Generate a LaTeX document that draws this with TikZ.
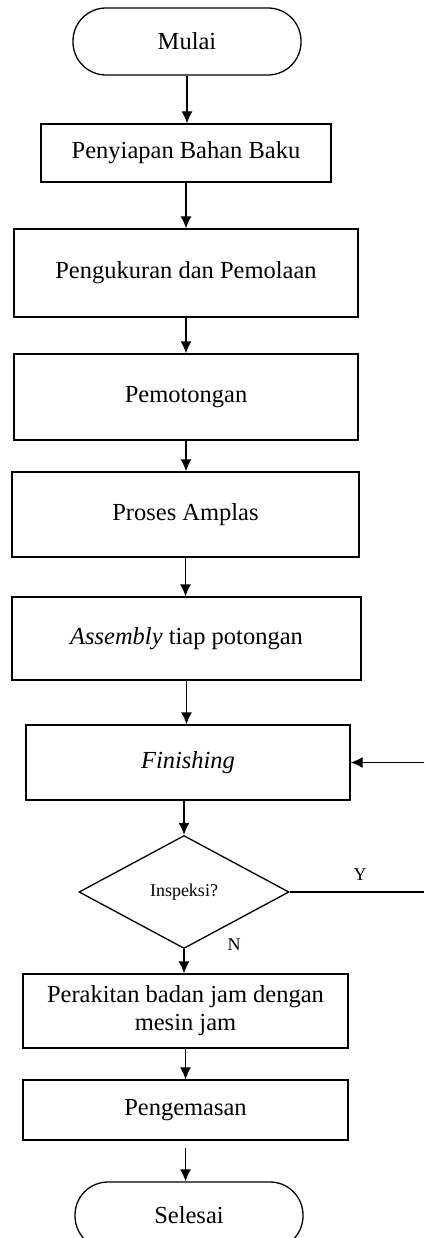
\documentclass[tikz,border=0pt]{standalone}
\usepackage{fontspec}
\setmainfont{Liberation Serif}
\usetikzlibrary{shapes.geometric,arrows.meta}

\tikzset{
  base/.style={draw=black, line width=1.3pt, inner sep=2pt, align=center,
               font=\fontsize{24.5}{28}\selectfont},
  terminal/.style={base, rounded corners=33pt},
  process/.style={base},
  decision/.style={base, diamond, inner sep=0pt, font=\fontsize{18}{20}\selectfont},
  flow/.style={line width=1.3pt, -{Latex[length=12pt,width=11pt]}},
  plain/.style={line width=1.3pt},
  tag/.style={font=\fontsize{18}{20}\selectfont}
}

\begin{document}
\begin{tikzpicture}[x=1pt,y=-1pt]
  \useasboundingbox (0,0) rectangle (424,1238);

  \node[terminal, minimum width=228pt, minimum height=67pt] (mulai) at (187,41.5) {Mulai};
  \node[process, minimum width=290pt, minimum height=58pt] (bahan) at (186,153) {Penyiapan Bahan Baku};
  \node[process, minimum width=344pt, minimum height=88pt] (ukur) at (186,273) {Pengukuran dan Pemolaan};
  \node[process, minimum width=344pt, minimum height=86pt] (potong) at (186,397) {Pemotongan};
  \node[process, minimum width=347pt, minimum height=85pt] (amplas) at (185.5,514.5) {Proses Amplas};
  \node[process, minimum width=349pt, minimum height=83pt] (assem) at (186.5,638.5) {\textit{Assembly} tiap potongan};
  \node[process, minimum width=324pt, minimum height=75pt] (finish) at (188,762.5) {\textit{Finishing}};
  \node[decision, minimum width=210pt, minimum height=113pt] (cek) at (184,892) {Inspeksi?};
  \node[process, minimum width=325pt, minimum height=74pt] (rakit) at (185.5,1011) {Perakitan badan jam dengan\\mesin jam};
  \node[process, minimum width=325pt, minimum height=60pt] (kemas) at (185.5,1110) {Pengemasan};
  \node[terminal, minimum width=228pt, minimum height=67pt] (selesai) at (189,1215.5) {Selesai};

  % main flow
  \draw[flow] (mulai.south) -- (mulai.south |- bahan.north);
  \draw[flow] (bahan.south) -- (bahan.south |- ukur.north);
  \draw[flow] (ukur.south) -- (ukur.south |- potong.north);
  \draw[flow] (potong.south) -- (potong.south |- amplas.north);
  \draw[flow] (amplas.south) -- (amplas.south |- assem.north);
  \draw[flow] (assem.south) -- (assem.south |- finish.north);
  \draw[flow] (finish.south -| cek.north) -- (cek.north);
  \draw[flow] (cek.south) -- (cek.south |- rakit.north);
  \draw[flow] (rakit.south) -- (rakit.south |- kemas.north);
  \draw[flow, shorten <=7pt] (kemas.south) -- (kemas.south |- selesai.north);

  % rework loop back to finishing
  \coordinate (ya) at (424,892);
  \coordinate (balik) at (424,762.5);
  \draw[plain] (cek.east) -- (ya);
  \draw[flow] (balik) -- (finish.east);

  \node[tag] (ytag) at (360,875) {Y};
  \node[tag] (ntag) at (234,945) {N};
\end{tikzpicture}
\end{document}
